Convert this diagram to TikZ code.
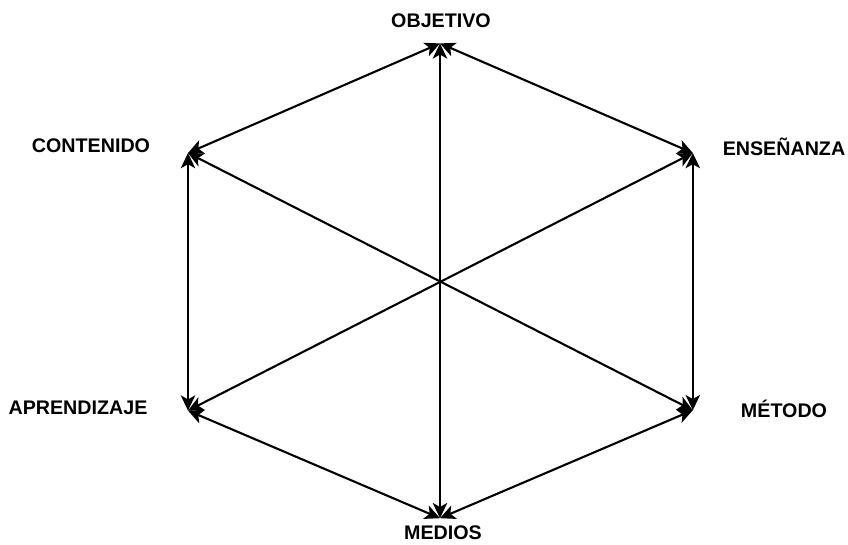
\documentclass[tikz,border=0pt]{standalone}
\usepackage{fontspec}
\setmainfont{Liberation Sans}
\usepackage{tikz}
\usetikzlibrary{arrows.meta, positioning}

\begin{document}
\begin{tikzpicture}[
  font=\fontsize{14}{16}\selectfont\bfseries,
  etiqueta/.style={inner sep=0pt, anchor=center},
  flecha/.style={draw=black, line width=1.5pt,
    {Stealth[length=3.8mm, width=3.6mm, inset=1mm]}-{Stealth[length=3.8mm, width=3.6mm, inset=1mm]}}
]
\useasboundingbox (-11,-6.575) rectangle (10.2,7.025);

% vertices del hexagono
\coordinate (objetivo) at (0,5.94);
\coordinate (ensenanza) at (6.32,3.2);
\coordinate (metodo) at (6.32,-3.23);
\coordinate (medios) at (0,-5.93);
\coordinate (aprendizaje) at (-6.3,-3.24);
\coordinate (contenido) at (-6.3,3.2);

% etiquetas
\node[etiqueta] (lObjetivo) at (0.025,6.5) {OBJETIVO};
\node[etiqueta] (lEnsenanza) at (8.6,3.35) {ENSEÑANZA};
\node[etiqueta] (lMetodo) at (8.6,-3.2) {MÉTODO};
\node[etiqueta] (lMedios) at (0.075,-6.3) {MEDIOS};
\node[etiqueta] (lAprendizaje) at (-9.05,-3.175) {APRENDIZAJE};
\node[etiqueta] (lContenido) at (-8.725,3.375) {CONTENIDO};

% lados
\draw[flecha] (objetivo) -- (ensenanza);
\draw[flecha] (ensenanza) -- (metodo);
\draw[flecha] (metodo) -- (medios);
\draw[flecha] (medios) -- (aprendizaje);
\draw[flecha] (aprendizaje) -- (contenido);
\draw[flecha] (contenido) -- (objetivo);

% diagonales
\draw[flecha] (objetivo) -- (medios);
\draw[flecha] (contenido) -- (metodo);
\draw[flecha] (ensenanza) -- (aprendizaje);
\end{tikzpicture}
\end{document}
